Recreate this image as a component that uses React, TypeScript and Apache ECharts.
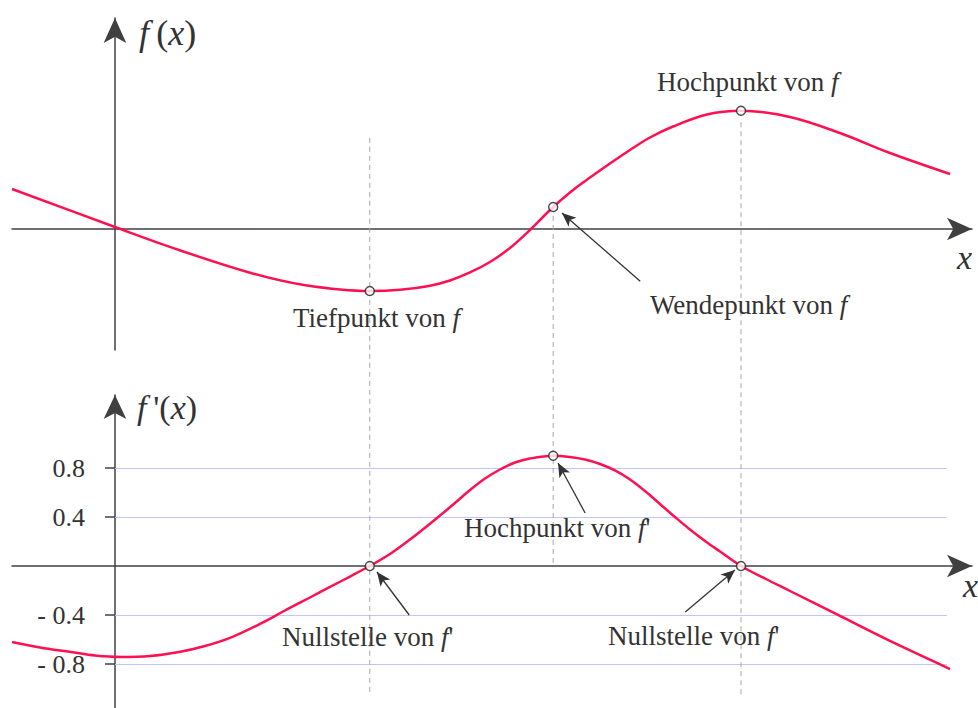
import React, { useEffect, useRef } from "react";
import * as echarts from "echarts";

// ---- data (x in common units for both panels) ----
const fX = [-1.645, 0, 1.022, 2.173, 3.019, 4.07, 4.553, 5.016, 5.351, 5.671, 5.99, 6.31, 6.629, 7.0, 7.348, 7.588, 7.907, 8.227, 8.546, 8.914, 9.457, 10.0, 10.783, 11.581, 12.38, 13.339];
const fY = [0.667, 0.033, -0.35, -0.733, -0.933, -1.033, -1.013, -0.95, -0.858, -0.725, -0.55, -0.317, -0.017, 0.367, 0.675, 0.858, 1.092, 1.317, 1.525, 1.708, 1.908, 1.97, 1.867, 1.6, 1.267, 0.917];

const dX = [-1.645, -1.198, -0.703, -0.319, 0.096, 0.559, 1.022, 1.438, 1.869, 2.316, 2.732, 3.115, 3.435, 3.754, 4.07, 4.393, 4.712, 5.144, 5.431, 5.671, 5.911, 6.15, 6.39, 6.629, 7.0, 7.268, 7.508, 7.748, 7.987, 8.227, 8.466, 8.706, 8.946, 9.185, 9.425, 9.665, 10.0, 10.383, 10.783, 11.581, 12.38, 13.339];
const dY = [-0.62, -0.665, -0.702, -0.731, -0.743, -0.735, -0.702, -0.653, -0.58, -0.473, -0.359, -0.257, -0.171, -0.086, 0, 0.098, 0.216, 0.392, 0.514, 0.62, 0.714, 0.788, 0.845, 0.878, 0.9, 0.89, 0.869, 0.833, 0.78, 0.706, 0.612, 0.506, 0.4, 0.298, 0.204, 0.118, 0, -0.102, -0.204, -0.408, -0.612, -0.841];

const markX = [4.07, 7.0, 10.0];
const fMarkY = [-1.033, 0.367, 1.97];
const dMarkY = [0, 0.9, 0];

const tickValues = [0.8, 0.4, -0.4, -0.8];
const tickLabels = ["0.8", "0.4", "- 0.4", "- 0.8"];
const gridLineStartX = 0;
const gridLineEndX = 13.29;

// dashed guides (in upper panel units, continuing down through lower panel)
const guideTop = [1.52, 0.367, 1.78];
const guideBottom = [-7.77, -5.62, -7.77];

// annotation arrows: [tail, tip]
const wendeArrow = [[8.39, -0.87], [7.14, 0.267]];
const lowerArrows = [
  [[7.51, 0.433], [7.077, 0.841]],
  [[4.7, -0.4], [4.185, -0.049]],
  [[9.11, -0.376], [9.904, -0.033]],
];

const X_MIN = -1.645;
const X_MAX = 13.69;
const TOP_Y_MIN = -2.017;
const TOP_Y_MAX = 3.517;
const BOT_Y_MIN = -1.2;
const BOT_Y_MAX = 1.396;

const SERIF = "'Liberation Serif', 'Times New Roman', serif";
const RED = "#ff1050";
const AXIS = "#404040";
const TEXT = "#333";

const zip = (xs: number[], ys: number[]) => xs.map((x, i) => [x, ys[i]]);

function richText(x: number, y: number, text: string, size: number) {
  return {
    type: "text",
    x,
    y,
    silent: true,
    z: 20,
    style: {
      text,
      fill: TEXT,
      fontFamily: SERIF,
      fontSize: size,
      verticalAlign: "middle",
      align: "left",
      rich: {
        n: { fontFamily: SERIF, fontSize: size, fill: TEXT, fontStyle: "normal" },
        i: { fontFamily: SERIF, fontSize: size, fill: TEXT, fontStyle: "italic" },
      },
    },
  };
}

export default function App() {
  const ref = useRef<HTMLDivElement>(null);

  useEffect(() => {
    if (!ref.current) return;
    const chart = echarts.init(ref.current, undefined, { renderer: "svg" });

    const axisLine = {
      show: true,
      onZero: true,
      symbol: ["none", "arrow"],
      lineStyle: { color: AXIS, width: 1.5 },
    };

    const arrowMarkLine = (data: number[][][]) => ({
      silent: true,
      symbol: ["none", "arrow"],
      symbolSize: [9, 14],
      label: { show: false },
      lineStyle: { color: "#333", width: 1.3, type: "solid" },
      data: data.map((a) => [{ coord: a[0] }, { coord: a[1] }]),
    });

    const option: any = {
      animation: false,
      backgroundColor: "#ffffff",
      grid: [
        { left: 12, right: 6, top: 18, bottom: 358, containLabel: false, outerBoundsMode: "none" },
        { left: 12, right: 6, top: 395, bottom: -5, containLabel: false, outerBoundsMode: "none" },
      ],
      xAxis: [0, 1].map((g) => ({
        gridIndex: g,
        type: "value",
        min: X_MIN,
        max: X_MAX,
        axisLine: { ...axisLine, symbolSize: [17, 25] },
        axisTick: { show: false },
        axisLabel: { show: false },
        splitLine: { show: false },
      })),
      yAxis: [
        {
          gridIndex: 0,
          type: "value",
          min: TOP_Y_MIN,
          max: TOP_Y_MAX,
          axisLine: { ...axisLine, symbolSize: [17, 25] },
          axisTick: { show: false },
          axisLabel: { show: false },
          splitLine: { show: false },
        },
        {
          gridIndex: 1,
          type: "value",
          min: BOT_Y_MIN,
          max: BOT_Y_MAX,
          interval: 0.4,
          axisLine: { ...axisLine, symbolSize: [17, 24] },
          axisTick: {
            show: true,
            customValues: tickValues,
            length: 10,
            inside: false,
            lineStyle: { color: AXIS, width: 1.5 },
          },
          axisLabel: {
            show: true,
            customValues: tickValues,
            margin: -73,
            fontFamily: SERIF,
            fontSize: 26,
            color: TEXT,
            formatter: (v: number) => {
              let best = -1;
              let bd = 1e9;
              tickValues.forEach((t, i) => {
                const d = Math.abs(t - v);
                if (d < bd) {
                  bd = d;
                  best = i;
                }
              });
              return bd < 1e-6 ? tickLabels[best] : "";
            },
          },
          splitLine: { show: false },
        },
      ],
      series: [
        ...markX.map((x, i) => ({
          type: "line",
          xAxisIndex: 0,
          yAxisIndex: 0,
          clip: false,
          silent: true,
          symbol: "none",
          z: 1,
          data: [
            [x, guideTop[i]],
            [x, guideBottom[i]],
          ],
          lineStyle: { color: "#a8a8a8", width: 1, type: [5, 4] },
        })),
        {
          type: "line",
          xAxisIndex: 1,
          yAxisIndex: 1,
          silent: true,
          symbol: "none",
          z: 1,
          data: [],
          markLine: {
            silent: true,
            z: 1,
            symbol: ["none", "none"],
            label: { show: false },
            lineStyle: { color: "#c4c4fa", width: 1.2, type: "solid" },
            data: tickValues.map((v) => [{ coord: [gridLineStartX, v] }, { coord: [gridLineEndX, v] }]),
          },
        },
        {
          type: "line",
          xAxisIndex: 0,
          yAxisIndex: 0,
          silent: true,
          data: zip(fX, fY),
          smooth: 0.35,
          symbol: "none",
          z: 3,
          lineStyle: { color: RED, width: 2.5 },
        },
        {
          type: "line",
          xAxisIndex: 1,
          yAxisIndex: 1,
          silent: true,
          data: zip(dX, dY),
          smooth: 0.35,
          symbol: "none",
          z: 3,
          lineStyle: { color: RED, width: 2.5 },
        },
        {
          type: "scatter",
          xAxisIndex: 0,
          yAxisIndex: 0,
          silent: true,
          z: 5,
          symbol: "circle",
          symbolSize: 9,
          itemStyle: { color: "#ffffff", borderColor: "#222", borderWidth: 1.5 },
          data: zip(markX, fMarkY),
          markLine: arrowMarkLine([wendeArrow]),
        },
        {
          type: "scatter",
          xAxisIndex: 1,
          yAxisIndex: 1,
          silent: true,
          z: 5,
          symbol: "circle",
          symbolSize: 9,
          itemStyle: { color: "#ffffff", borderColor: "#222", borderWidth: 1.5 },
          data: zip(markX, dMarkY),
          markLine: arrowMarkLine(lowerArrows),
        },
      ],
      graphic: [
        richText(139, 33, "{i|f}{n|\u2009(}{i|x}{n|)}", 36),
        richText(137, 407, "{i|f}{n|\u2009'(}{i|x}{n|)}", 34),
        richText(957, 257, "{i|x}", 34),
        richText(963, 585, "{i|x}", 34),
        richText(657, 82, "{n|Hochpunkt von }{i|f}", 27),
        richText(293, 318, "{n|Tiefpunkt von }{i|f}", 27),
        richText(650, 305, "{n|Wendepunkt von }{i|f}", 27),
        richText(464, 528, "{n|Hochpunkt von }{i|f}{n|'}", 27),
        richText(282, 637, "{n|Nullstelle von }{i|f}{n|'}", 27),
        richText(608, 636, "{n|Nullstelle von }{i|f}{n|'}", 27),
      ],
    };

    chart.setOption(option);
    return () => {
      chart.dispose();
    };
  }, []);

  return (
    <div
      ref={ref}
      style={{ position: "fixed", left: 0, top: 0, width: "978px", height: "708px", background: "#fff" }}
    />
  );
}
